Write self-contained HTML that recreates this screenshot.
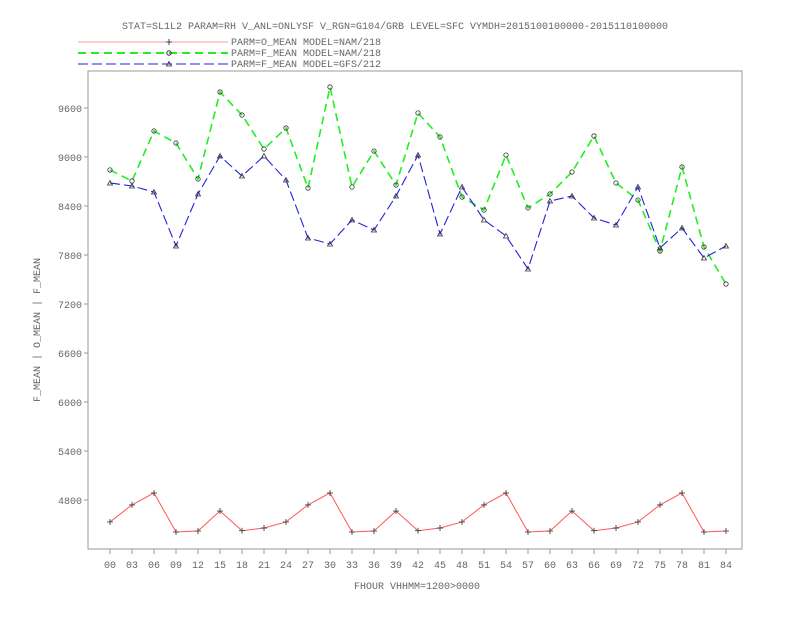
<!DOCTYPE html>
<html><head><meta charset="utf-8"><style>
body{margin:0;background:#fff}
svg text{font-family:"Liberation Mono",monospace;fill:#666;font-size:10px}
</style></head><body>
<svg id="chart" width="792" height="612">
<text x="395" y="29" text-anchor="middle">STAT=SL1L2 PARAM=RH V_ANL=ONLYSF V_RGN=G104/GRB LEVEL=SFC VYMDH=2015100100000-2015110100000</text>
<g>
<line x1="78" y1="42" x2="228" y2="42" stroke="#f99"/>
<path d="M166,42h6M169,39v6" stroke="#444"/>
<text x="231" y="45">PARM=O_MEAN MODEL=NAM/218</text>
<line x1="78" y1="53" x2="228" y2="53" stroke="#22ee22" stroke-width="2" stroke-dasharray="8,5"/>
<circle cx="169" cy="53" r="2.2" fill="none" stroke="#333"/>
<text x="231" y="56">PARM=F_MEAN MODEL=NAM/218</text>
<line x1="78" y1="64" x2="228" y2="64" stroke="#2222dd" stroke-dasharray="10,4"/>
<path d="M169,61.5L171.5,66L166.5,66Z" fill="none" stroke="#333" stroke-width="0.8"/>
<text x="231" y="67">PARM=F_MEAN MODEL=GFS/212</text>
</g>
<rect x="88" y="71" width="654" height="478" fill="none" stroke="#999"/>
<g id="axes"></g><g id="series"></g>
<text x="417" y="589" text-anchor="middle">FHOUR VHHMM=1200&gt;0000</text>
<text transform="translate(40,330) rotate(-90)" text-anchor="middle">F_MEAN | O_MEAN | F_MEAN</text>
</svg>
<script>
const categories=["00","03","06","09","12","15","18","21","24","27","30","33","36","39","42","45","48","51","54","57","60","63","66","69","72","75","78","81","84"];
const yTicks=[4800,5400,6000,6600,7200,7800,8400,9000,9600];
const oMeanNam=[4531,4740,4886,4408,4420,4665,4424,4457,4531,4740,4886,4408,4420,4665,4424,4457,4531,4740,4886,4408,4420,4665,4424,4457,4531,4740,4886,4408,4420];
const fMeanNam=[8841,8706,9318,9171,8731,9796,9514,9098,9355,8620,9857,8633,9073,8657,9539,9245,8510,8351,9024,8376,8547,8816,9257,8682,8473,7849,8878,7898,7445];
const fMeanGfs=[8682,8645,8571,7910,8547,9012,8767,9012,8718,8008,7935,8229,8106,8522,9024,8057,8633,8229,8033,7629,8461,8522,8253,8167,8633,7886,8131,7763,7910];
const NS="http://www.w3.org/2000/svg";
const xS=i=>110+i*22;
const yS=v=>108+(9600-v)*49/600;
function mk(tag,attrs,parent){const e=document.createElementNS(NS,tag);for(const k in attrs)e.setAttribute(k,attrs[k]);parent.appendChild(e);return e;}
const ax=document.getElementById('axes'),sr=document.getElementById('series');
yTicks.forEach(v=>{
 const t=mk('line',{x1:84,x2:88,y1:yS(v),y2:yS(v),stroke:'#999'},ax);
 
 
 const l=mk('text',{x:82,y:yS(v)+4,'text-anchor':'end'},ax);l.textContent=v;
 
 
});
categories.forEach((c,i)=>{
 const t=mk('line',{x1:xS(i),x2:xS(i),y1:549,y2:554,stroke:'#999'},ax);
 
 
 const l=mk('text',{x:xS(i),y:568,'text-anchor':'middle'},ax);l.textContent=c;
 
 
});
function series(vals,color,dash,width,marker,name){
 const p=mk('polyline',{points:vals.map((v,i)=>xS(i)+','+yS(v)).join(' '),fill:'none',stroke:color,'stroke-width':width,'stroke-dasharray':dash},sr);
 
 
 vals.forEach((v,i)=>{
  const x=xS(i),y=yS(v);let m;
  if(marker==='plus'){m=mk('path',{d:`M${x-3},${y}h6M${x},${y-3}v6`,stroke:'#444','stroke-width':0.9},sr);}
  else if(marker==='circle'){m=mk('circle',{cx:x,cy:y,r:2.2,fill:'none',stroke:'#333','stroke-width':0.8},sr);}
  else{m=mk('path',{d:`M${x},${y-2.5}L${x+2.5},${y+2}L${x-2.5},${y+2}Z`,fill:'none',stroke:'#333','stroke-width':0.8},sr);}
  
  
 });
}
series(oMeanNam,'#f55','',1,'plus','o-mean-nam');
series(fMeanNam,'#22ee22','8,5',1.6,'circle','f-mean-nam');
series(fMeanGfs,'#2222dd','10,4',1.1,'tri','f-mean-gfs');
</script>
</body></html>
